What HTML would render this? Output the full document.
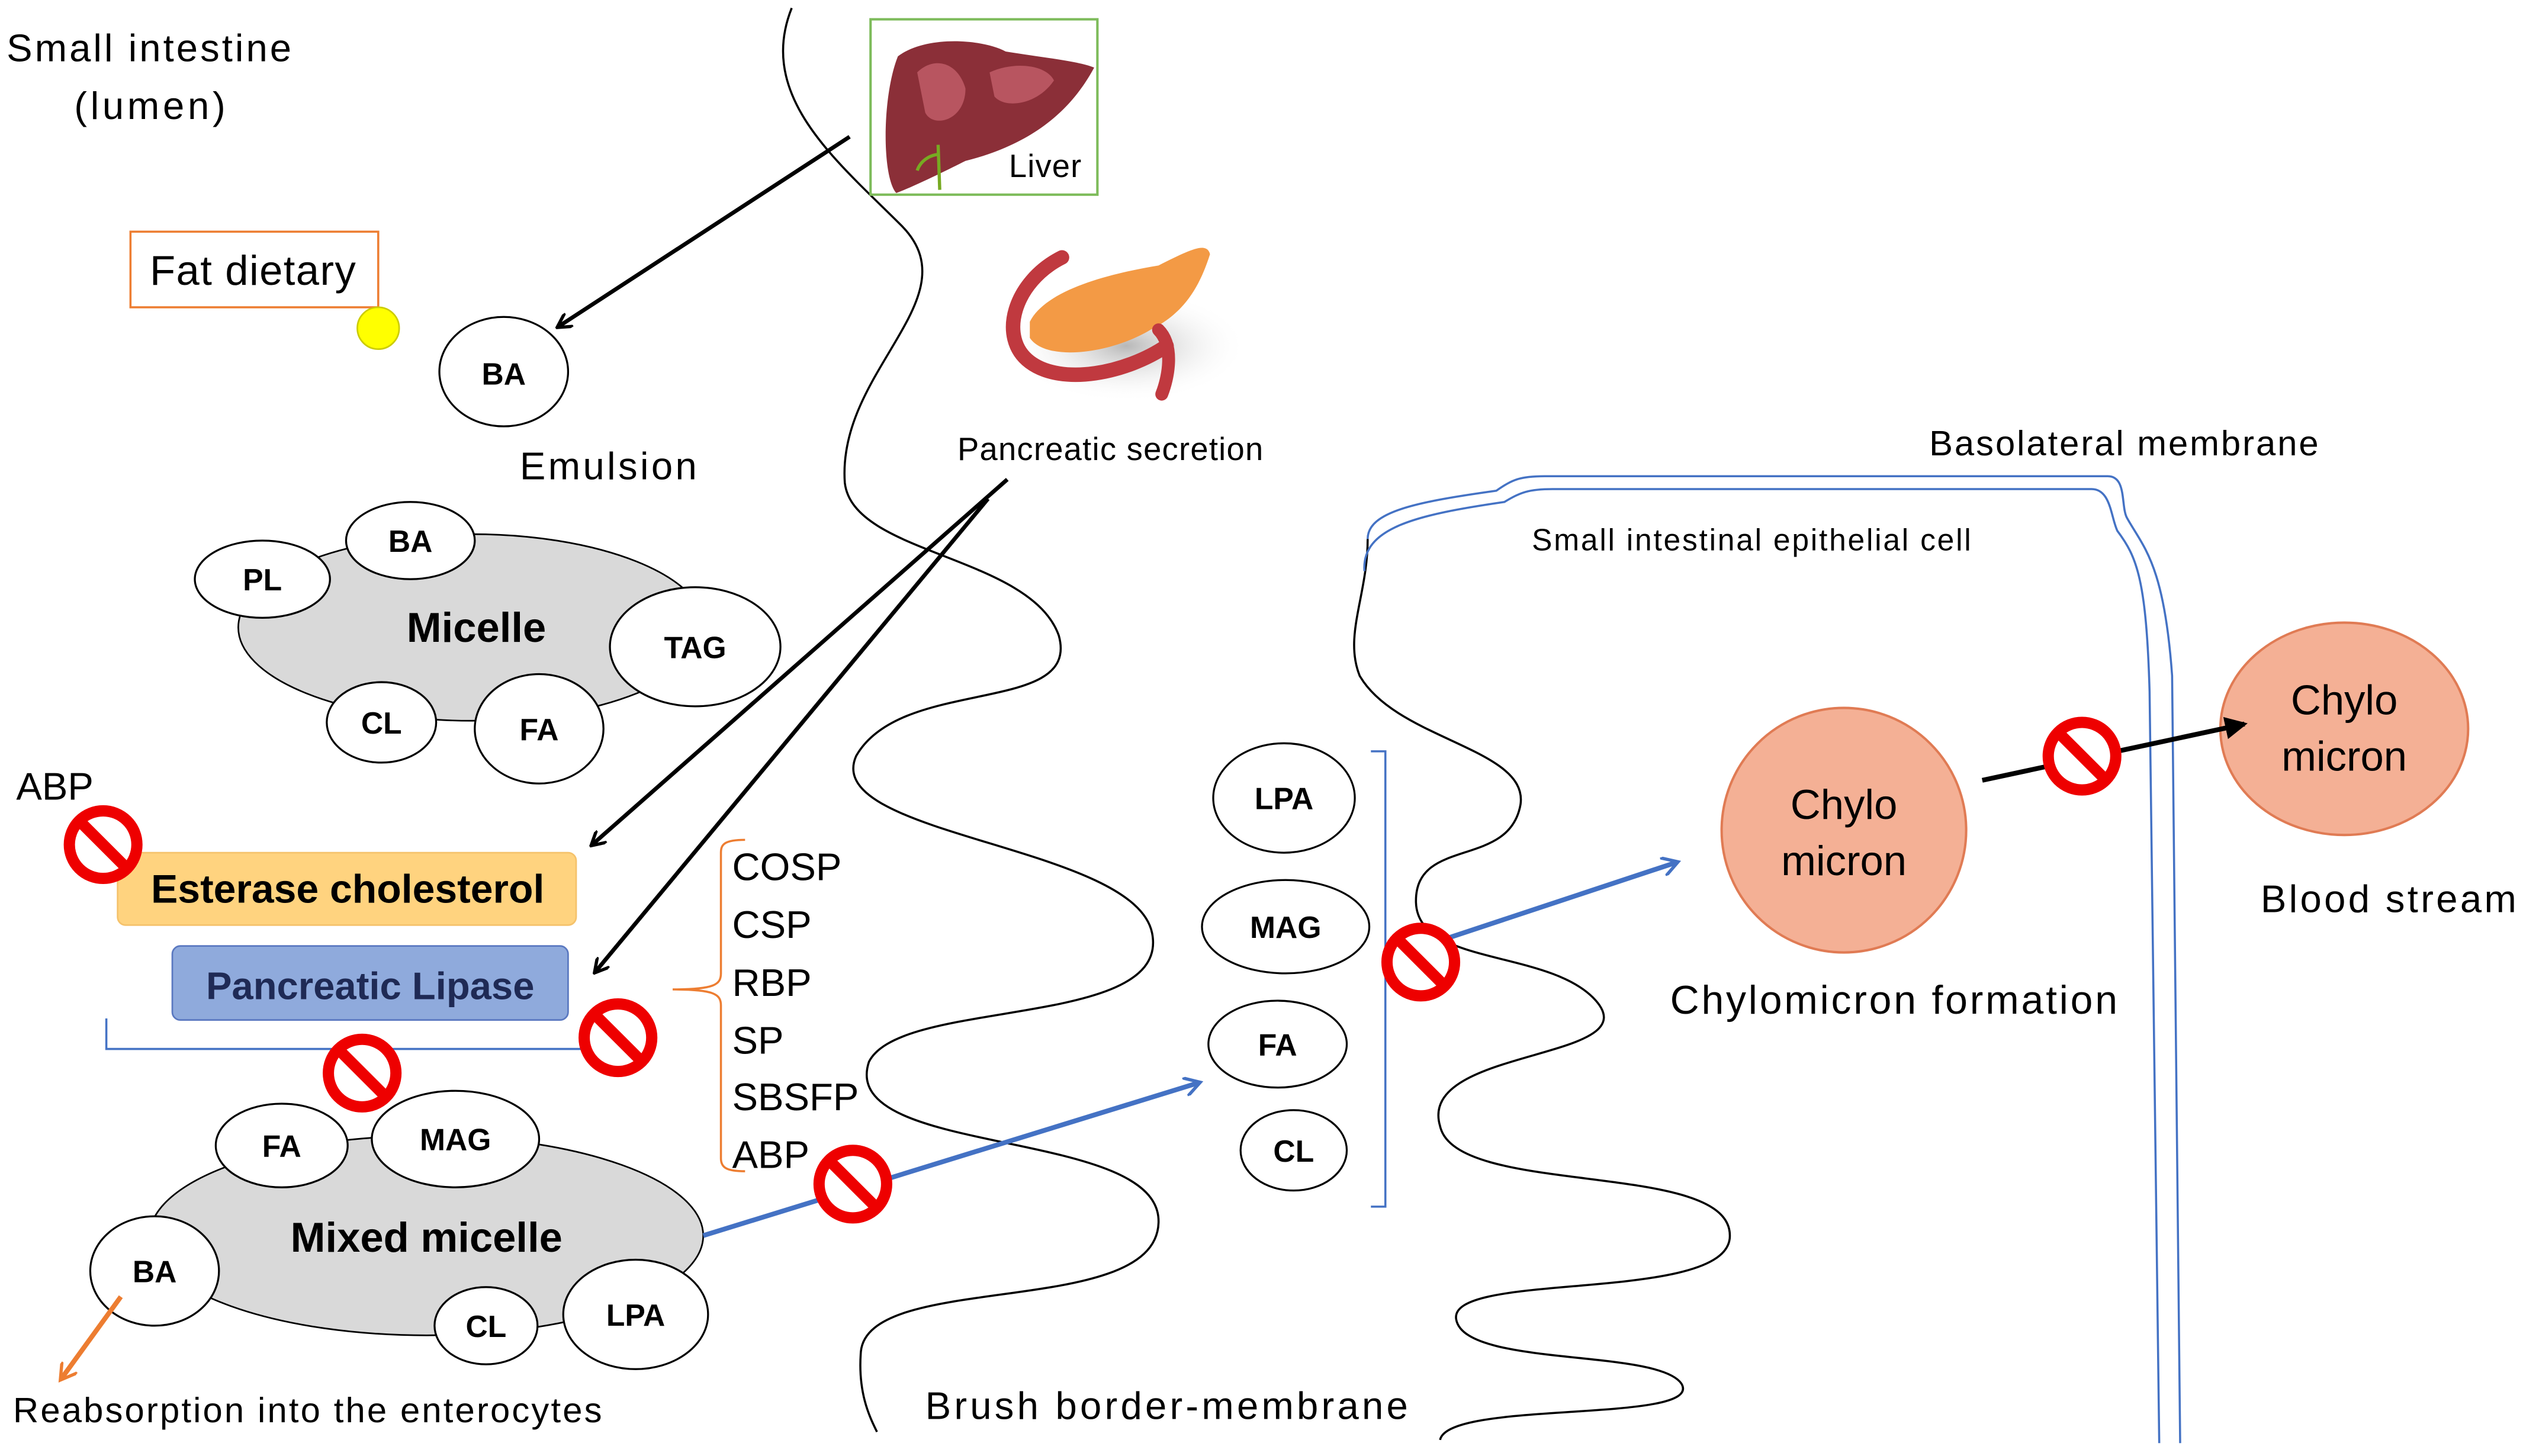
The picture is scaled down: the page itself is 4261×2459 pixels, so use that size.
<!DOCTYPE html>
<html><head><meta charset="utf-8"><style>
html,body{margin:0;padding:0;background:#fff;}
svg{display:block;}
text{font-family:"Liberation Sans",sans-serif;}
</style></head><body>
<svg width="4261" height="2459" viewBox="0 0 1568 905" xmlns="http://www.w3.org/2000/svg">
<defs>
<marker id="ak" markerWidth="10" markerHeight="10" refX="8" refY="5" orient="auto" markerUnits="userSpaceOnUse" viewBox="0 0 10 10"><path d="M0,0 L9,5 L0,10" fill="none" stroke="#000" stroke-width="2"/></marker>
<marker id="ab" markerWidth="12" markerHeight="12" refX="9" refY="6" orient="auto" markerUnits="userSpaceOnUse" viewBox="0 0 12 12"><path d="M0,0 L10,6 L0,12" fill="none" stroke="#4472c4" stroke-width="2"/></marker>
<marker id="ao" markerWidth="12" markerHeight="12" refX="9" refY="6" orient="auto" markerUnits="userSpaceOnUse" viewBox="0 0 12 12"><path d="M0,0 L10,6 L0,12" fill="none" stroke="#ed7d31" stroke-width="2"/></marker>
<marker id="akf" markerWidth="14" markerHeight="14" refX="12" refY="7" orient="auto" markerUnits="userSpaceOnUse" viewBox="0 0 14 14"><path d="M0,0 L14,7 L0,14 Z" fill="#000"/></marker>
<g id="no"><circle r="21" fill="#fff" stroke="#e00" stroke-width="7"/><line x1="-15" y1="-15" x2="15" y2="15" stroke="#e00" stroke-width="7"/></g>
<radialGradient id="sh"><stop offset="0" stop-color="#888" stop-opacity=".6"/><stop offset="1" stop-color="#fff" stop-opacity="0"/></radialGradient>
</defs>

<path d="M492,5 C470,60 520,100 560,140 C605,185 520,230 525,300 C530,345 640,345 658,395 C672,445 560,420 532,470 C510,520 705,525 716,580 C728,640 560,620 540,660 C520,720 722,700 720,760 C718,820 540,790 535,840 C533,865 540,880 545,890" fill="none" stroke="#000" stroke-width="1.3"/>
<path d="M850,335 C850,370 835,395 845,420 C868,460 950,465 945,500 C938,540 880,520 880,560 C880,600 960,590 990,620 C1030,660 880,650 895,700 C905,745 1080,720 1075,770 C1070,810 900,790 905,820 C910,850 1030,838 1045,860 C1060,885 900,870 895,895" fill="none" stroke="#000" stroke-width="1.3"/>
<path d="M850,335 C850,318 880,312 930,305 C940,298 945,296 960,296 L1310,296 C1322,296 1318,315 1322,322 C1332,340 1345,350 1350,420 L1355,897" fill="none" stroke="#4472c4" stroke-width="1.3"/>
<path d="M848,355 C846,328 880,320 935,312 C945,306 950,304 965,304 L1300,304 C1312,304 1312,322 1316,330 C1328,346 1334,360 1336,430 L1342,897" fill="none" stroke="#4472c4" stroke-width="1.3"/>

<text x="4" y="38" font-size="24" textLength="177">Small intestine</text>
<text x="46" y="74" font-size="24" textLength="94">(lumen)</text>

<rect x="541" y="12" width="141" height="109" fill="#fff" stroke="#7dbb5a" stroke-width="1.5"/>
<path d="M558,35 C575,22 610,24 625,32 C650,36 670,38 680,42 C665,70 640,90 600,100 C590,105 570,115 557,120 C548,110 548,60 558,35 Z" fill="#8b2f38"/>
<path d="M570,45 C580,35 595,38 600,55 C600,75 580,80 575,70 Z" fill="#b85560"/>
<path d="M615,45 C630,38 650,40 655,50 C645,65 625,68 618,60 Z" fill="#b85560"/>
<path d="M583,90 L584,118 M584,96 C578,96 572,100 570,106" stroke="#7a2" stroke-width="2" fill="none"/>
<text x="627" y="110" font-size="20" textLength="45">Liver</text>
<line x1="528" y1="85" x2="347" y2="203" stroke="#000" stroke-width="2.5" marker-end="url(#ak)"/>

<ellipse cx="700" cy="215" rx="75" ry="35" fill="url(#sh)"/>
<path d="M660,160 C630,175 620,210 640,225 C660,240 700,232 725,215" fill="none" stroke="#c0393f" stroke-width="9" stroke-linecap="round"/>
<path d="M640,200 C650,180 690,170 720,165 C740,155 750,150 752,158 C745,180 735,195 715,205 C690,220 650,225 640,210 Z" fill="#f39a45"/>
<path d="M720,205 C730,215 726,235 722,245" fill="none" stroke="#c0393f" stroke-width="8" stroke-linecap="round"/>
<text x="595" y="286" font-size="20" textLength="190">Pancreatic secretion</text>
<line x1="626" y1="298" x2="368" y2="525" stroke="#000" stroke-width="2.5" marker-end="url(#ak)"/>
<line x1="614" y1="310" x2="370" y2="604" stroke="#000" stroke-width="2.5" marker-end="url(#ak)"/>

<rect x="81" y="144" width="154" height="47" fill="#fff" stroke="#ed7d31" stroke-width="1.3"/>
<text x="93" y="177" font-size="26" textLength="128">Fat dietary</text>
<circle cx="235" cy="204" r="13" fill="#ff0" stroke="#cc0"/>

<ellipse cx="313" cy="231" rx="40" ry="34" stroke="#000" stroke-width="1.2" fill="#fff"/>
<text x="313" y="239" font-size="19" font-weight="bold" text-anchor="middle">BA</text>
<text x="323" y="298" font-size="24" textLength="110">Emulsion</text>

<ellipse cx="293" cy="390" rx="145" ry="58" fill="#d9d9d9" stroke="#000" stroke-width="1"/>
<g stroke="#000" stroke-width="1.2" fill="#fff">
<ellipse cx="163" cy="360" rx="42" ry="24"/>
<ellipse cx="255" cy="336" rx="40" ry="24"/>
<ellipse cx="432" cy="402" rx="53" ry="37"/>
<ellipse cx="237" cy="449" rx="34" ry="25"/>
<ellipse cx="335" cy="453" rx="40" ry="34"/>
</g>
<g font-size="19" font-weight="bold" text-anchor="middle">
<text x="163" y="367">PL</text><text x="255" y="343">BA</text><text x="432" y="409">TAG</text><text x="237" y="456">CL</text><text x="335" y="460">FA</text>
</g>
<text x="296" y="399" font-size="26" font-weight="bold" text-anchor="middle">Micelle</text>

<text x="10" y="497" font-size="24">ABP</text>
<rect x="73" y="530" width="285" height="45" rx="5" fill="#ffd37f" stroke="#f5c26b"/>
<text x="216" y="561" font-size="25" font-weight="bold" text-anchor="middle">Esterase cholesterol</text>
<rect x="107" y="588" width="246" height="46" rx="5" fill="#8faadc" stroke="#5a78c0"/>
<text x="230" y="621" font-size="24" font-weight="bold" text-anchor="middle" fill="#1f2a55">Pancreatic Lipase</text>
<path d="M66,633 L66,652 L385,652" fill="none" stroke="#4472c4" stroke-width="1.3"/>

<path d="M463,522 C450,522 448,525 448,530 L448,605 C448,612 444,615 418,615 C444,615 448,618 448,625 L448,720 C448,726 452,728 463,728" fill="none" stroke="#ed7d31" stroke-width="1.3"/>
<g font-size="24"><text x="455" y="547">COSP</text><text x="455" y="583">CSP</text><text x="455" y="619">RBP</text><text x="455" y="655">SP</text><text x="455" y="690">SBSFP</text><text x="455" y="726">ABP</text></g>

<ellipse cx="265" cy="768" rx="172" ry="62" fill="#d9d9d9" stroke="#000" stroke-width="1"/>
<g stroke="#000" stroke-width="1.2" fill="#fff">
<ellipse cx="175" cy="712" rx="41" ry="26"/>
<ellipse cx="283" cy="708" rx="52" ry="30"/>
<ellipse cx="96" cy="790" rx="40" ry="34"/>
<ellipse cx="302" cy="824" rx="32" ry="24"/>
<ellipse cx="395" cy="817" rx="45" ry="34"/>
</g>
<g font-size="19" font-weight="bold" text-anchor="middle">
<text x="175" y="719">FA</text><text x="283" y="715">MAG</text><text x="96" y="797">BA</text><text x="302" y="831">CL</text><text x="395" y="824">LPA</text>
</g>
<text x="265" y="778" font-size="26" font-weight="bold" text-anchor="middle">Mixed micelle</text>
<line x1="75" y1="806" x2="38" y2="857" stroke="#ed7d31" stroke-width="3" marker-end="url(#ao)"/>
<text x="8" y="884" font-size="22" textLength="366">Reabsorption into the enterocytes</text>
<line x1="437" y1="768" x2="745" y2="673" stroke="#4472c4" stroke-width="3" marker-end="url(#ab)"/>
<text x="575" y="882" font-size="24" textLength="300">Brush border-membrane</text>

<text x="1199" y="283" font-size="22" textLength="242">Basolateral membrane</text>
<text x="952" y="342" font-size="19" textLength="273">Small intestinal epithelial cell</text>

<g stroke="#000" stroke-width="1.2" fill="#fff">
<ellipse cx="798" cy="496" rx="44" ry="34"/>
<ellipse cx="799" cy="576" rx="52" ry="29"/>
<ellipse cx="794" cy="649" rx="43" ry="27"/>
<ellipse cx="804" cy="715" rx="33" ry="25"/>
</g>
<g font-size="19" font-weight="bold" text-anchor="middle">
<text x="798" y="503">LPA</text><text x="799" y="583">MAG</text><text x="794" y="656">FA</text><text x="804" y="722">CL</text>
</g>
<path d="M852,467 L861,467 L861,750 L852,750" fill="none" stroke="#4472c4" stroke-width="1.3"/>
<line x1="900" y1="583" x2="1042" y2="536" stroke="#4472c4" stroke-width="3" marker-end="url(#ab)"/>

<circle cx="1146" cy="516" r="76" fill="#f4b095" stroke="#e07b54" stroke-width="1.5"/>
<text x="1146" y="509" font-size="26" text-anchor="middle">Chylo</text>
<text x="1146" y="544" font-size="26" text-anchor="middle">micron</text>
<text x="1038" y="630" font-size="25" textLength="278">Chylomicron formation</text>
<ellipse cx="1457" cy="453" rx="77" ry="66" fill="#f4b095" stroke="#e07b54" stroke-width="1.5"/>
<text x="1457" y="444" font-size="26" text-anchor="middle">Chylo</text>
<text x="1457" y="479" font-size="26" text-anchor="middle">micron</text>
<line x1="1232" y1="485" x2="1395" y2="450" stroke="#000" stroke-width="3" marker-end="url(#akf)"/>
<text x="1405" y="567" font-size="24" textLength="159">Blood stream</text>

<use href="#no" x="64" y="525"/>
<use href="#no" x="384" y="645"/>
<use href="#no" x="225" y="667"/>
<use href="#no" x="530" y="736"/>
<use href="#no" x="883" y="598"/>
<use href="#no" x="1294" y="470"/>
</svg>
</body></html>
